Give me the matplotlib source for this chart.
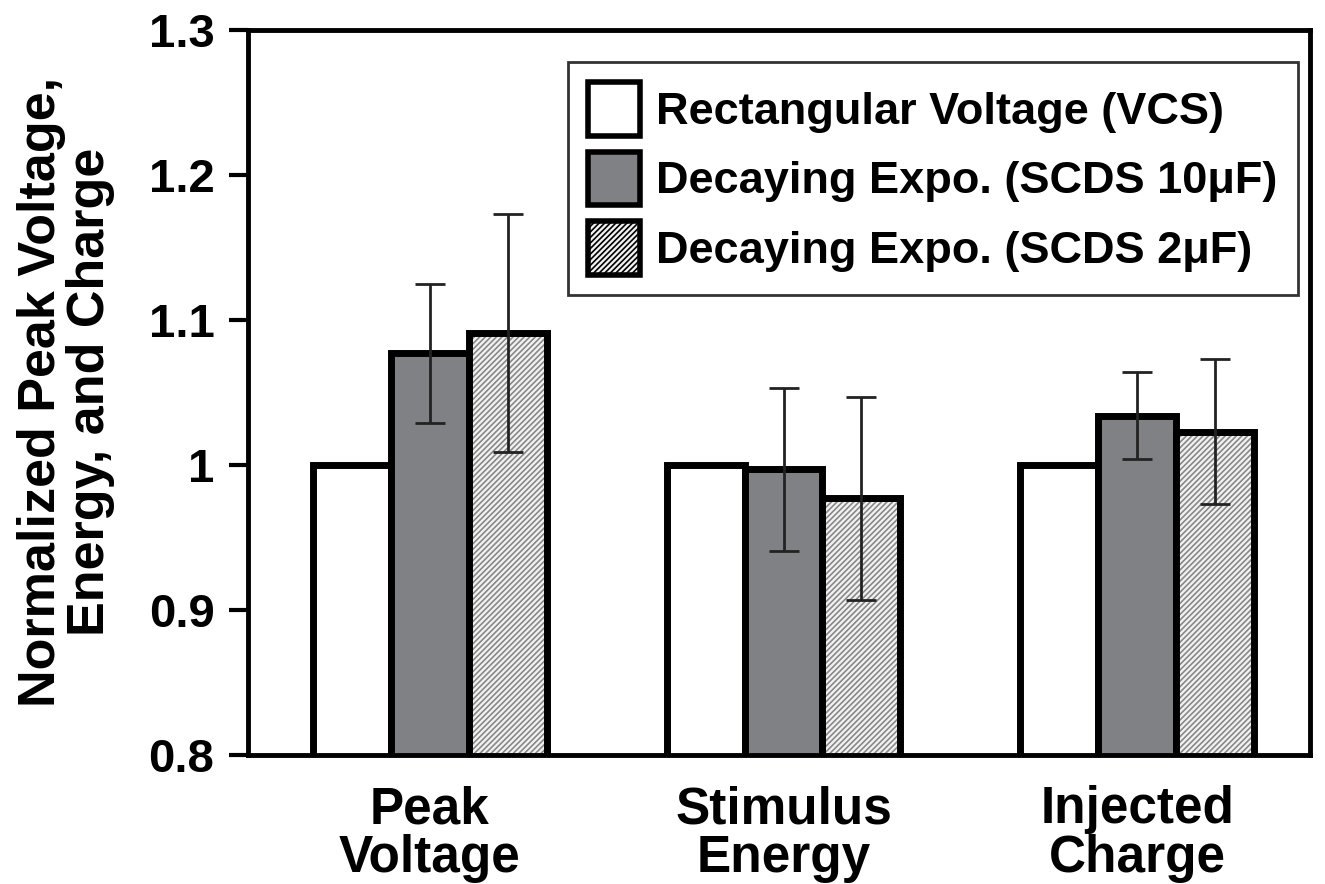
import matplotlib.pyplot as plt
import numpy as np
from matplotlib.patches import Patch

# data
categories = ['Peak\nVoltage', 'Stimulus\nEnergy', 'Injected\nCharge']
labels = ['Rectangular Voltage (VCS)', 'Decaying Expo. (SCDS 10\u03bcF)', 'Decaying Expo. (SCDS 2\u03bcF)']
vcs = [1.0, 1.0, 1.0]
scds10 = [1.077, 0.997, 1.034]
scds10_err = [0.048, 0.056, 0.030]
scds2 = [1.091, 0.977, 1.023]
scds2_err = [0.082, 0.070, 0.050]

plt.rcParams['font.family'] = ['Liberation Sans', 'DejaVu Sans']
plt.rcParams['font.weight'] = 'bold'
plt.rcParams['hatch.linewidth'] = 1.2

fig = plt.figure(figsize=(13.25, 8.84), dpi=100)
ax = fig.add_axes([0.187, 0.146, 0.802, 0.820])

x = np.arange(len(categories))
w = 0.22
lw = 5

# white bars
ax.bar(x - w, vcs, w, facecolor='white', edgecolor='black', linewidth=lw, zorder=2)
# dark gray bars
ax.bar(x, scds10, w, facecolor='#808184', edgecolor='black', linewidth=lw, zorder=2)
ax.errorbar(x, scds10, yerr=scds10_err, fmt='none', ecolor='#222222', elinewidth=2, capsize=11, capthick=2, zorder=4)
# hatched bars: hatch layer then outline
ax.bar(x + w, scds2, w, facecolor='#f2f2f2', edgecolor='#888888', hatch='//////', linewidth=0, zorder=2)
ax.bar(x + w, scds2, w, facecolor='none', edgecolor='black', linewidth=lw, zorder=3)
ax.errorbar(x + w, scds2, yerr=scds2_err, fmt='none', ecolor='#222222', elinewidth=2, capsize=11, capthick=2, zorder=4)

ax.set_ylim(0.8, 1.3)
ax.set_xlim(-0.515, 2.49)
ax.set_yticks([0.8, 0.9, 1.0, 1.1, 1.2, 1.3])
ax.set_yticklabels(['0.8', '0.9', '1', '1.1', '1.2', '1.3'], fontsize=34, fontweight='bold')
ax.set_xticks(x)
ax.set_xticklabels(categories, fontsize=37, fontweight='bold', linespacing=1.0)
ax.tick_params(axis='x', length=0, pad=22)
ax.tick_params(axis='y', length=14, width=3, direction='out', pad=10)
for s in ax.spines.values():
    s.set_linewidth(3.5)

ax.set_ylabel('Normalized Peak Voltage,\nEnergy, and Charge', fontsize=37.5, fontweight='bold', linespacing=1.0)
ax.yaxis.set_label_coords(-0.125, 0.501)

# legend
handles = [
    Patch(facecolor='white', edgecolor='black', linewidth=4),
    Patch(facecolor='#808184', edgecolor='black', linewidth=4),
    Patch(facecolor='#f2f2f2', edgecolor='black', linewidth=4, hatch='//////'),
]
leg = ax.legend(handles, labels, loc='upper right', bbox_to_anchor=(0.988, 0.956), fontsize=32.5,
                frameon=True, fancybox=False, edgecolor='black', handlelength=1.15, handleheight=1.45,
                handletextpad=0.35, labelspacing=0.35, borderpad=0.45, borderaxespad=0)
leg.get_frame().set_linewidth(2)
for t in leg.get_texts():
    t.set_fontweight('bold')

fig.savefig('out.png', dpi=100)
